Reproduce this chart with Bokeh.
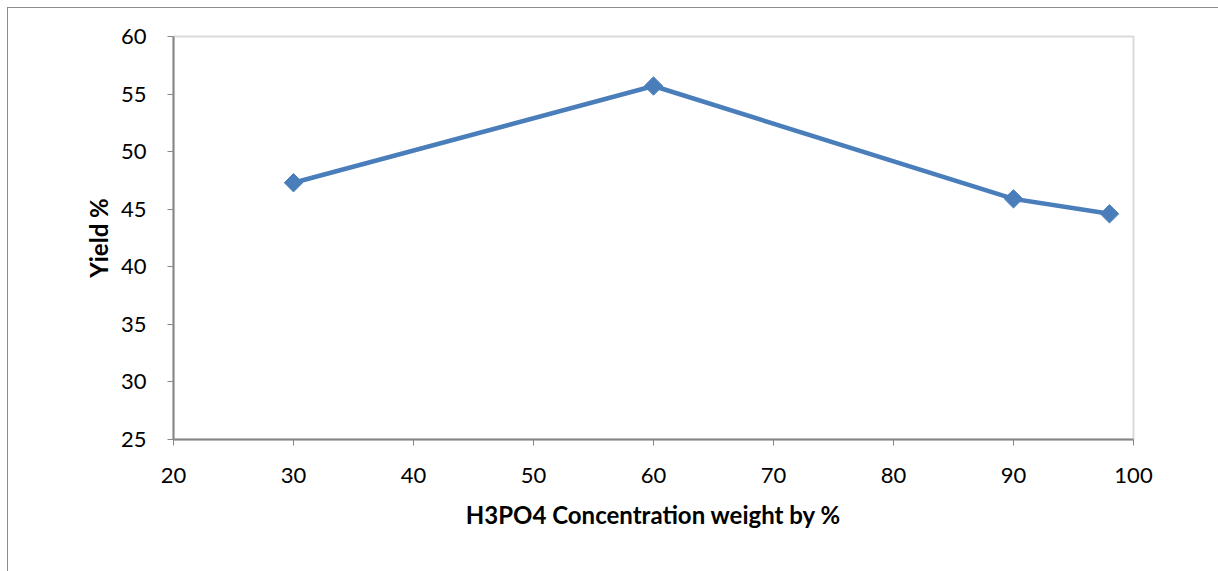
import math
from bokeh.plotting import figure
from bokeh.embed import file_html
from bokeh.resources import INLINE
from bokeh.models import Range1d, FixedTicker

concentration = [30, 60, 90, 98]
yield_pct = [47.3, 55.7, 45.9, 44.6]
x_ticks = [20, 30, 40, 50, 60, 70, 80, 90, 100]
y_ticks = [25, 30, 35, 40, 45, 50, 55, 60]

p = figure(width=1211, height=564, output_backend="svg", toolbar_location=None,
           x_range=Range1d(20, 100), y_range=Range1d(25, 60),
           min_border_left=165, min_border_right=86, min_border_top=28, min_border_bottom=133)
p.margin = (7, 0, 0, 7)
p.styles = {"border-left": "1px solid #8c8c8c", "border-top": "1px solid #8c8c8c"}
p.background_fill_color = "white"
p.border_fill_color = "white"
p.outline_line_color = "#d9d9d9"
p.outline_line_width = 2
p.xgrid.grid_line_color = None
p.ygrid.grid_line_color = None

for ax in (p.xaxis[0], p.yaxis[0]):
    ax.axis_line_color = "#868686"
    ax.axis_line_width = 2
    ax.major_tick_line_color = "#868686"
    ax.major_tick_line_width = 1
    ax.major_tick_out = 6
    ax.major_tick_in = 0
    ax.minor_tick_line_color = None
    ax.major_label_text_font = "Lato"
    ax.major_label_text_font_size = "22px"
    ax.major_label_text_color = "black"
    ax.axis_label_text_font = "Lato"
    ax.axis_label_text_font_size = "24px"
    ax.axis_label_text_font_style = "bold"
    ax.axis_label_text_color = "black"

p.xaxis.ticker = FixedTicker(ticks=x_ticks)
p.yaxis.ticker = FixedTicker(ticks=y_ticks)
p.xaxis.axis_label = "H3PO4 Concentration weight by %"
p.yaxis.axis_label = "Yield %"
p.xaxis.major_label_standoff = 22
p.yaxis.major_label_standoff = 21
p.xaxis.axis_label_standoff = 14
p.yaxis.axis_label_standoff = 5

p.line(concentration, yield_pct, line_color="#4a7ebb", line_width=4.5)
p.scatter(concentration, yield_pct, marker="square", size=13, angle=math.pi / 4,
          fill_color="#4a7ebb", line_color="#4a7ebb")

open("out.html", "w").write(file_html(p, INLINE))
